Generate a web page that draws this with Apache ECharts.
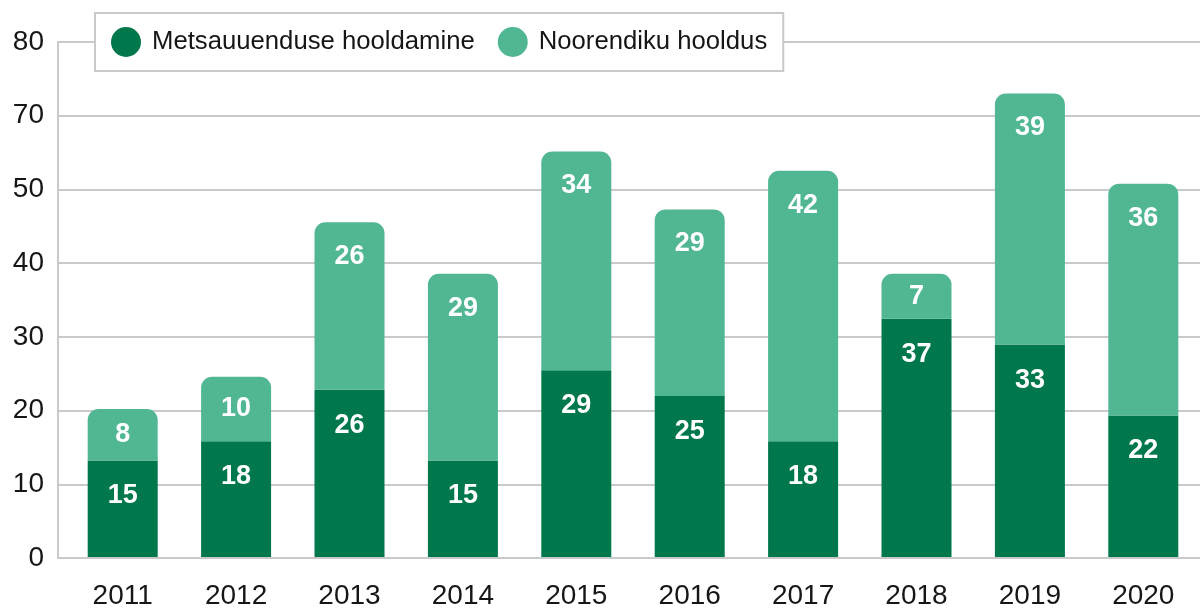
<!DOCTYPE html>
<html>
<head>
<meta charset="utf-8">
<script src="https://cdn.jsdelivr.net/npm/echarts@6/dist/echarts.min.js"></script>
<style>
  html, body { margin: 0; padding: 0; background: #fff; }
  #chart { width: 1200px; height: 610px; }
</style>
</head>
<body>
<div id="chart"></div>
<script>
const years = ['2011','2012','2013','2014','2015','2016','2017','2018','2019','2020'];
const metsauuendus = [15, 18, 26, 15, 29, 25, 18, 37, 33, 22];
const noorendik = [8, 10, 26, 29, 34, 29, 42, 7, 39, 36];
const yTickLabels = ['0','10','20','30','40','50','70','80'];
const seriesNames = ['Metsauuenduse hooldamine', 'Noorendiku hooldus'];

const yMax = 80;
const yInterval = yMax / (yTickLabels.length - 1);
const FONT = 'Liberation Sans';
const GRID_COLOR = '#c9c9c9';
const TEXT_COLOR = '#161616';

function labelled(values) {
  return values.map(v => ({
    value: v,
    label: { position: v <= 10 ? 'inside' : 'insideTop' }
  }));
}

const chart = echarts.init(document.getElementById('chart'), null, { renderer: 'canvas' });
chart.setOption({
  animation: false,
  textStyle: { fontFamily: FONT },
  legend: {
    left: 95, top: 13,
    padding: [14, 16, 14, 16],
    itemWidth: 30, itemHeight: 30,
    itemGap: 23,
    icon: 'circle',
    backgroundColor: '#fff',
    borderColor: GRID_COLOR,
    borderWidth: 2,
    textStyle: { fontFamily: FONT, fontSize: 25.7, color: TEXT_COLOR, padding: [0, 0, 0, 6] },
    data: seriesNames
  },
  grid: [
    { left: 58, right: 0, top: 42, bottom: 52 },
    { left: 66, right: 0, top: 42, bottom: 52 }
  ],
  xAxis: [
    {
      gridIndex: 0, type: 'category', data: years,
      axisLine: { show: true, lineStyle: { color: GRID_COLOR, width: 2 } },
      axisTick: { show: false }, axisLabel: { show: false }, splitLine: { show: false }
    },
    {
      gridIndex: 1, type: 'category', data: years,
      axisLine: { show: false }, axisTick: { show: false },
      axisLabel: { fontFamily: FONT, fontSize: 28, color: TEXT_COLOR, margin: 25 }
    }
  ],
  yAxis: [
    {
      gridIndex: 0, type: 'value', min: 0, max: yMax, interval: yInterval,
      axisLine: { show: true, lineStyle: { color: GRID_COLOR, width: 2 } },
      axisTick: { show: false },
      splitLine: { show: true, lineStyle: { color: GRID_COLOR, width: 2 } },
      axisLabel: {
        fontFamily: FONT, fontSize: 28, color: TEXT_COLOR, margin: 14,
        formatter: v => yTickLabels[Math.round(v / yInterval)]
      }
    },
    {
      gridIndex: 1, type: 'value', min: 0, max: yMax, interval: yInterval, show: false
    }
  ],
  series: [
    {
      name: seriesNames[0], type: 'bar', stack: 'total',
      xAxisIndex: 1, yAxisIndex: 1, barWidth: 70,
      itemStyle: { color: '#00784B' },
      label: { show: true, color: '#fff', fontFamily: FONT, fontWeight: 'bold', fontSize: 27, distance: 22 },
      data: labelled(metsauuendus)
    },
    {
      name: seriesNames[1], type: 'bar', stack: 'total',
      xAxisIndex: 1, yAxisIndex: 1, barWidth: 70,
      itemStyle: { color: '#50B792', borderRadius: [11, 11, 0, 0] },
      label: { show: true, color: '#fff', fontFamily: FONT, fontWeight: 'bold', fontSize: 27, distance: 21 },
      data: labelled(noorendik)
    }
  ]
});
</script>
</body>
</html>
